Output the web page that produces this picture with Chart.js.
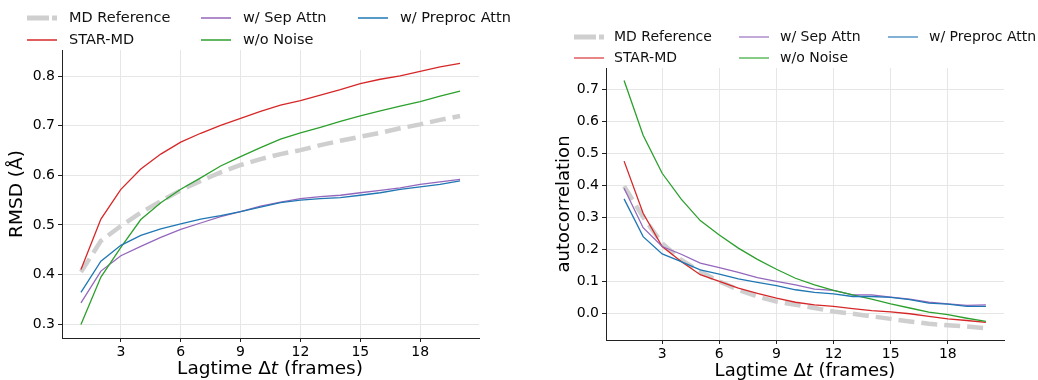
<!DOCTYPE html>
<html lang="en">
<head>
<meta charset="utf-8">
<title>lagtime plots</title>
<script src="https://cdn.jsdelivr.net/npm/chart.js@4.4.1/dist/chart.umd.min.js"></script>
<style>
body { margin: 0; background: #fff; font-family: "DejaVu Sans", sans-serif; }
#wrap { position: relative; width: 1038px; height: 380px; overflow: hidden; }
canvas { position: absolute; top: 0; }
.leg { position: absolute; color: #111; white-space: nowrap; line-height: 1; }
.leg svg { position: absolute; overflow: visible; }
.xt { position: absolute; color: #000; white-space: nowrap; line-height: 1; transform: translate(-50%, -50%); }
</style>
</head>
<body>
<div id="wrap">
<canvas id="rmsd" style="left:0px"></canvas>
<canvas id="acf" style="left:520px"></canvas>
<div class="xt" style="left:270px;top:368px;font-size:18.5px">Lagtime Δ<i>t</i> (frames)</div>
<div class="xt" style="left:805px;top:370px;font-size:18px">Lagtime Δ<i>t</i> (frames)</div>
</div>
<script>
// lagtime in frames
const lags = [1,2,3,4,5,6,7,8,9,10,11,12,13,14,15,16,17,18,19,20];
const xTicks = [3, 6, 9, 12, 15, 18];

// RMSD (Å) vs lagtime
const rmsdMD      = [0.405,0.468,0.498,0.525,0.548,0.570,0.589,0.606,0.621,0.633,0.643,0.651,0.661,0.670,0.678,0.686,0.695,0.703,0.712,0.720];
const rmsdStar    = [0.410,0.512,0.572,0.613,0.643,0.667,0.685,0.701,0.715,0.729,0.742,0.751,0.762,0.773,0.785,0.794,0.801,0.810,0.819,0.826];
const rmsdSep     = [0.343,0.407,0.438,0.457,0.475,0.491,0.504,0.517,0.527,0.538,0.546,0.553,0.557,0.560,0.565,0.570,0.575,0.582,0.587,0.592];
const rmsdNoNoise = [0.299,0.395,0.455,0.511,0.545,0.572,0.595,0.619,0.638,0.656,0.673,0.686,0.697,0.709,0.720,0.730,0.740,0.749,0.760,0.770];
const rmsdPre     = [0.364,0.427,0.459,0.479,0.492,0.502,0.512,0.519,0.527,0.536,0.545,0.550,0.553,0.555,0.560,0.565,0.572,0.577,0.582,0.589];
const rmsdTicks = [0.3, 0.4, 0.5, 0.6, 0.7, 0.8];

// autocorrelation vs lagtime
const acfMD      = [0.397,0.300,0.218,0.166,0.130,0.099,0.073,0.052,0.036,0.026,0.016,0.005,-0.002,-0.010,-0.018,-0.026,-0.033,-0.038,-0.042,-0.047];
const acfStar    = [0.475,0.312,0.208,0.161,0.120,0.099,0.078,0.062,0.047,0.034,0.026,0.021,0.014,0.008,0.004,-0.002,-0.010,-0.018,-0.023,-0.029];
const acfSep     = [0.390,0.267,0.208,0.184,0.156,0.142,0.127,0.111,0.099,0.088,0.075,0.071,0.057,0.057,0.050,0.044,0.034,0.029,0.024,0.026];
const acfNoNoise = [0.727,0.556,0.437,0.356,0.289,0.244,0.203,0.168,0.137,0.109,0.088,0.071,0.057,0.044,0.029,0.016,0.003,-0.005,-0.016,-0.026];
const acfPre     = [0.357,0.239,0.185,0.161,0.135,0.122,0.107,0.096,0.086,0.073,0.065,0.060,0.052,0.052,0.049,0.042,0.031,0.028,0.021,0.021];
const acfTicks = [0.0, 0.1, 0.2, 0.3, 0.4, 0.5, 0.6, 0.7];

const names = ['MD Reference', 'STAR-MD', 'w/ Sep Attn', 'w/o Noise', 'w/ Preproc Attn'];
const colors = ['#cfcfcf', '#d62728', '#9467bd', '#2ca02c', '#1f77b4'];
// legend grid position (ncol=3, filled column by column)
const legCol = [0, 0, 1, 1, 2];
const legRow = [0, 1, 0, 1, 0];

function datasets(series) {
	// matplotlib order: first plotted at the bottom
	return series.map(function(vals, i) {
		return {
			label: names[i],
			data: vals.map(function(v, j) { return {x: lags[j], y: v}; }),
			borderColor: colors[i],
			borderWidth: i === 0 ? 4.5 : 1.3,
			borderDash: i === 0 ? [16, 7] : [],
			pointRadius: 0,
			tension: 0,
			order: series.length - i
		};
	});
}

function makeChart(id, w, series, ylim, yTicks, yTitle, geo) {
	const cv = document.getElementById(id);
	cv.width = w; cv.height = 380;
	cv.style.width = w + 'px'; cv.style.height = '380px';
	return new Chart(cv, {
		type: 'line',
		data: { datasets: datasets(series) },
		options: {
			responsive: false,
			animation: false,
			events: [],
			layout: { padding: { top: geo.top, right: geo.right, bottom: 0, left: 0 } },
			plugins: { legend: { display: false }, tooltip: { enabled: false } },
			scales: {
				x: {
					type: 'linear', min: 0.05, max: 20.95,
					afterBuildTicks: function(s) { s.ticks = xTicks.map(function(v) { return {value: v}; }); },
					afterFit: function(s) { s.height = geo.xh; },
					ticks: { color: '#000', font: { family: 'DejaVu Sans', size: geo.tick }, padding: geo.xpad, maxRotation: 0,
						callback: function(v) { return String(v); } },
					grid: { color: '#e6e6e6', lineWidth: 1, tickColor: '#222', tickLength: 4 },
					border: { color: '#222', width: 1 }
				},
				y: {
					type: 'linear', min: ylim[0], max: ylim[1],
					afterBuildTicks: function(s) { s.ticks = yTicks.map(function(v) { return {value: v}; }); },
					afterFit: function(s) { s.width = geo.yw; },
					ticks: { color: '#000', font: { family: 'DejaVu Sans', size: geo.tick }, padding: 3,
						callback: function(v) { return v.toFixed(1); } },
					grid: { color: '#e6e6e6', lineWidth: 1, tickColor: '#222', tickLength: 4 },
					border: { color: '#222', width: 1 },
					title: { display: true, text: yTitle, color: '#000',
						font: { family: 'DejaVu Sans', size: geo.title }, padding: { top: geo.ytpad, bottom: 0 } }
				}
			}
		}
	});
}

makeChart('rmsd', 520, [rmsdMD, rmsdStar, rmsdSep, rmsdNoNoise, rmsdPre], [0.272, 0.853], rmsdTicks, 'RMSD (Å)',
	{ top: 50, right: 41, xh: 42, yw: 62, tick: 14, title: 18.5, xpad: 2, ytpad: 6 });
makeChart('acf', 518, [acfMD, acfStar, acfSep, acfNoNoise, acfPre], [-0.084, 0.766], acfTicks, 'autocorrelation',
	{ top: 68, right: 34, xh: 40, yw: 86, tick: 14, title: 18, xpad: 2, ytpad: 34 });

// legends laid out like matplotlib ncol=3
function legend(x0, cols, rows, size, alpha) {
	const wrap = document.getElementById('wrap');
	for (let i = 0; i < names.length; i++) {
		const c = cols[legCol[i]];
		const el = document.createElement('div');
		el.className = 'leg';
		el.style.left = (x0 + c[0]) + 'px';
		el.style.top = (rows[legRow[i]] - size * 0.58) + 'px';
		el.style.fontSize = size + 'px';
		el.style.paddingLeft = (c[1] - c[0]) + 'px';
		const thick = i === 0;
		el.innerHTML = '<svg width="30" height="2" style="left:0;top:' + (size * 0.58 - 1) + 'px">' +
			'<line x1="0" y1="1" x2="30" y2="1" stroke="' + colors[i] + '" stroke-opacity="' + (thick ? 1 : alpha) +
			'" stroke-width="' + (thick ? 5 : 1.5) + '"' + (thick ? ' stroke-dasharray="22 3"' : '') + '/></svg>' + names[i];
		wrap.appendChild(el);
	}
}
legend(0, [[27, 69], [201, 243], [358, 400]], [18.5, 40.5], 14.5, 1);
legend(520, [[54, 94], [219, 260], [368, 409]], [37, 58], 14, 0.75);
</script>
</body>
</html>
